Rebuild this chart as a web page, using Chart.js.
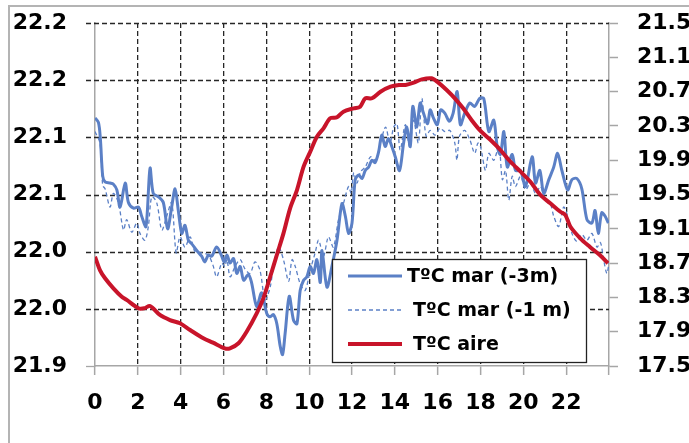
<!DOCTYPE html>
<html>
<head>
<meta charset="utf-8">
<script src="https://cdn.jsdelivr.net/npm/chart.js@4/dist/chart.umd.min.js"></script>
<style>
  html, body { margin: 0; padding: 0; background: #fff; overflow: hidden; }
  #chart { position: absolute; left: 0; top: 0; }
</style>
</head>
<body>
<canvas id="chart" width="700" height="443"></canvas>
<script>
// hours of the day on the x axis
const hourTicks = ['0', '2', '4', '6', '8', '10', '12', '14', '16', '18', '20', '22', ''];
const leftTickLabels = ['21.9', '22.0', '22.0', '22.1', '22.1', '22.2', '22.2'];
const rightTickLabels = ['17.5', '17.9', '18.3', '18.7', '19.1', '19.5', '19.9', '20.3', '20.7', '21.1', '21.5'];

const legendLabels = ['TºC mar (-3m)', 'TºC mar (-1 m)', 'TºC aire'];

// sea temperature at -3 m (left axis)
const sea3Hours = [0, 0.16, 0.25, 0.36, 0.47, 0.7, 0.86, 1.02, 1.17, 1.41, 1.56, 1.8, 2.03, 2.18, 2.38, 2.57, 2.72, 2.96,
  3.19, 3.39, 3.58, 3.74, 3.89, 4.05, 4.2, 4.36, 4.51, 4.75, 4.98, 5.13, 5.29, 5.45, 5.68, 5.92, 6.03, 6.16, 6.31, 6.47,
  6.62, 6.78, 6.94, 7.16, 7.31, 7.55, 7.78, 8.02, 8.18, 8.33, 8.49, 8.65, 8.76, 8.88, 9.07, 9.27, 9.43, 9.58, 9.74, 9.89,
  10.05, 10.2, 10.36, 10.52, 10.6, 10.83, 11.06, 11.3, 11.53, 11.69, 11.84, 12.0, 12.15, 12.31, 12.47, 12.62, 12.78, 12.93,
  13.08, 13.24, 13.39, 13.55, 13.7, 13.86, 14.02, 14.22, 14.41, 14.56, 14.72, 14.84, 15.03, 15.18, 15.34, 15.53, 15.65,
  15.8, 15.98, 16.14, 16.34, 16.54, 16.72, 16.91, 17.06, 17.26, 17.5, 17.73, 17.96, 18.15, 18.39, 18.62, 18.78, 18.93,
  19.09, 19.25, 19.48, 19.64, 19.87, 20.1, 20.41, 20.57, 20.77, 20.95, 21.19, 21.42, 21.6, 21.8, 22.07, 22.27, 22.5,
  22.73, 22.97, 23.2, 23.35, 23.5, 23.66, 23.82, 23.97];
const sea3Temp = [22.117, 22.113, 22.099, 22.066, 22.061, 22.060, 22.059, 22.054, 22.039, 22.060, 22.043, 22.038, 22.039,
  22.031, 22.022, 22.073, 22.051, 22.048, 22.043, 22.020, 22.039, 22.055, 22.036, 22.016, 22.023, 22.010, 22.007, 22.001,
  21.996, 21.991, 21.997, 21.996, 22.004, 21.996, 21.991, 21.997, 21.990, 21.994, 21.981, 21.987, 21.975, 21.980, 21.973,
  21.952, 21.964, 21.946, 21.943, 21.945, 21.937, 21.917, 21.910, 21.929, 21.961, 21.940, 21.937, 21.966, 21.975, 21.978,
  21.987, 21.981, 21.993, 21.973, 22.001, 21.969, 21.987, 22.010, 22.042, 22.031, 22.016, 22.025, 22.063, 22.067, 22.064,
  22.071, 22.074, 22.080, 22.078, 22.087, 22.102, 22.092, 22.099, 22.092, 22.083, 22.071, 22.095, 22.109, 22.092, 22.127,
  22.109, 22.130, 22.121, 22.112, 22.124, 22.117, 22.111, 22.124, 22.121, 22.114, 22.121, 22.140, 22.111, 22.121, 22.130,
  22.127, 22.134, 22.134, 22.105, 22.115, 22.092, 22.085, 22.105, 22.074, 22.085, 22.071, 22.071, 22.057, 22.083, 22.060,
  22.071, 22.051, 22.063, 22.074, 22.086, 22.071, 22.054, 22.063, 22.064, 22.055, 22.028, 22.025, 22.036, 22.016, 22.034,
  22.031, 22.025];

// sea temperature at -1 m (left axis)
const sea1Hours = [0, 0.23, 0.36, 0.47, 0.7, 0.86, 1.09, 1.33, 1.48, 1.72, 1.95, 2.1, 2.33, 2.49, 2.65, 2.88, 3.12, 3.35,
  3.58, 3.79, 3.97, 4.2, 4.44, 4.67, 4.98, 5.29, 5.51, 5.68, 5.92, 6.06, 6.16, 6.31, 6.54, 6.78, 7.0, 7.24, 7.47, 7.7,
  7.94, 8.18, 8.33, 8.57, 8.8, 9.04, 9.2, 9.35, 9.58, 9.81, 10.05, 10.28, 10.44, 10.67, 10.9, 11.13, 11.37, 11.6, 11.84,
  11.96, 12.08, 12.23, 12.4, 12.62, 12.87, 13.1, 13.33, 13.57, 13.77, 13.95, 14.1, 14.25, 14.49, 14.69, 14.87, 15.1,
  15.26, 15.46, 15.65, 15.88, 16.1, 16.34, 16.57, 16.8, 16.9, 17.02, 17.26, 17.5, 17.73, 17.88, 18.0, 18.23, 18.39, 18.62,
  18.86, 19.02, 19.17, 19.32, 19.48, 19.63, 19.87, 20.1, 20.33, 20.57, 20.8, 21.03, 21.26, 21.42, 21.65, 21.88, 22.07,
  22.27, 22.5, 22.73, 22.97, 23.2, 23.44, 23.6, 23.75, 23.9, 24.0];
const sea1Temp = [22.105, 22.095, 22.058, 22.055, 22.039, 22.051, 22.043, 22.019, 22.028, 22.017, 22.025, 22.016, 22.010,
  22.022, 22.048, 22.043, 22.019, 22.031, 22.043, 21.999, 22.013, 22.004, 22.013, 22.000, 21.999, 21.997, 21.988, 21.978,
  21.990, 21.987, 21.993, 21.978, 21.987, 21.993, 21.985, 21.981, 21.991, 21.984, 21.958, 21.969, 21.987, 22.004, 21.993,
  21.974, 21.993, 21.987, 21.972, 21.966, 21.984, 21.999, 22.010, 21.996, 22.013, 22.004, 22.028, 22.042, 22.057, 22.051,
  22.069, 22.060, 22.070, 22.074, 22.083, 22.080, 22.095, 22.109, 22.095, 22.109, 22.112, 22.089, 22.111, 22.092, 22.115,
  22.095, 22.134, 22.101, 22.106, 22.102, 22.108, 22.105, 22.106, 22.095, 22.080, 22.101, 22.106, 22.098, 22.086, 22.095,
  22.092, 22.071, 22.086, 22.080, 22.092, 22.063, 22.071, 22.045, 22.066, 22.057, 22.066, 22.054, 22.060, 22.051, 22.057,
  22.045, 22.042, 22.031, 22.022, 22.039, 22.031, 22.016, 22.009, 22.015, 22.010, 22.016, 22.004, 22.008, 21.993, 21.981,
  21.990];

// air temperature (right axis)
const airHours = [0, 0.23, 0.47, 0.86, 1.25, 1.48, 2.03, 2.3, 2.57, 3.03, 3.5, 3.97, 4.44, 5.06, 5.51, 6.06, 6.3, 6.7,
  7.08, 7.55, 7.86, 8.18, 8.49, 8.8, 9.11, 9.43, 9.74, 10.05, 10.36, 10.67, 10.98, 11.3, 11.6, 12.08, 12.38, 12.62, 12.93,
  13.33, 13.8, 14.19, 14.5, 14.88, 15.26, 15.72, 16.03, 16.42, 16.8, 17.19, 17.58, 18.0, 18.47, 18.93, 19.4, 19.87, 20.33,
  20.8, 21.26, 21.73, 21.96, 22.2, 22.66, 23.1, 23.57, 23.95];
const airTemp = [18.775, 18.619, 18.523, 18.406, 18.308, 18.270, 18.173, 18.173, 18.200, 18.095, 18.036, 17.998, 17.920,
  17.823, 17.772, 17.706, 17.706, 17.765, 17.900, 18.114, 18.289, 18.541, 18.794, 19.047, 19.339, 19.552, 19.824, 19.999,
  20.174, 20.272, 20.389, 20.400, 20.466, 20.505, 20.524, 20.622, 20.622, 20.699, 20.757, 20.777, 20.777, 20.804, 20.843,
  20.855, 20.804, 20.719, 20.622, 20.505, 20.369, 20.241, 20.136, 20.019, 19.882, 19.766, 19.649, 19.494, 19.397, 19.299,
  19.261, 19.124, 18.989, 18.891, 18.794, 18.698];

function pairs(xs, ys) {
  return xs.map(function(x, i) { return { x: x, y: ys[i] }; });
}

const blue = '#5b80c6';
const red = '#c8142a';
const gridDark = '#262626';
const axisGrey = '#a6a6a6';
const clear = 'rgba(0,0,0,0)';
const tickFont = { family: 'DejaVu Sans', size: 22, weight: 'bold' };

// grey frame round the whole figure (only its left and top edges are in view)
const outerFrame = {
  id: 'outerFrame',
  beforeDraw(chart) {
    const ctx = chart.ctx;
    ctx.save();
    ctx.strokeStyle = '#b4b4b4';
    ctx.lineWidth = 2;
    ctx.beginPath();
    ctx.moveTo(9, 460);
    ctx.lineTo(9, 6);
    ctx.lineTo(720, 6);
    ctx.stroke();
    ctx.restore();
  }
};

// dashed horizontal grid at the left-axis ticks, under the data lines
const leftGrid = {
  id: 'leftGrid',
  beforeDatasetsDraw(chart) {
    const s = chart.scales.yL;
    const a = chart.chartArea;
    const ctx = chart.ctx;
    ctx.save();
    ctx.lineWidth = 1.3;
    s.ticks.forEach(function(t, i) {
      const y = Math.round(s.getPixelForTick(i)) + 0.5;
      ctx.beginPath();
      if (i === 0) {
        ctx.setLineDash([]);
        ctx.strokeStyle = axisGrey;
        ctx.moveTo(a.left - 9, y);
        ctx.lineTo(a.left, y);
      } else {
        ctx.setLineDash([5, 3]);
        ctx.strokeStyle = gridDark;
        ctx.moveTo(a.left - 9, y);
        ctx.lineTo(a.right, y);
      }
      ctx.stroke();
    });
    ctx.restore();
  }
};

// legend drawn inside the plot, framed box
const insideLegend = {
  id: 'insideLegend',
  afterDraw(chart) {
    const ctx = chart.ctx;
    const ds = chart.data.datasets;
    ctx.save();
    ctx.fillStyle = '#fff';
    ctx.fillRect(332, 259, 254, 103);
    ctx.strokeStyle = '#222';
    ctx.lineWidth = 1.3;
    ctx.strokeRect(332.5, 259.5, 254, 103);
    const rows = [
      { y: 276, tx: 407 },
      { y: 310, tx: 413 },
      { y: 344, tx: 413 }
    ];
    rows.forEach(function(r, i) {
      const d = ds[i];
      ctx.beginPath();
      ctx.setLineDash(d.borderDash || []);
      ctx.strokeStyle = d.borderColor;
      ctx.lineWidth = d.borderWidth;
      ctx.moveTo(348, r.y);
      ctx.lineTo(402, r.y);
      ctx.stroke();
      ctx.setLineDash([]);
      ctx.fillStyle = '#000';
      ctx.font = 'bold 19px "DejaVu Sans"';
      ctx.textBaseline = 'middle';
      ctx.textAlign = 'left';
      ctx.fillText(legendLabels[i], r.tx, r.y + 1);
    });
    ctx.restore();
  }
};

function noPad(s) {
  s.paddingTop = 0;
  s.paddingBottom = 0;
  s.paddingLeft = 0;
  s.paddingRight = 0;
}

const chart = new Chart(document.getElementById('chart'), {
  type: 'line',
  data: {
    datasets: [
      {
        label: legendLabels[0],
        data: pairs(sea3Hours, sea3Temp),
        borderColor: blue,
        borderWidth: 3,
        yAxisID: 'yL',
        order: 1
      },
      {
        label: legendLabels[1],
        data: pairs(sea1Hours, sea1Temp),
        borderColor: blue,
        borderWidth: 1.3,
        borderDash: [4, 3],
        yAxisID: 'yL',
        order: 2
      },
      {
        label: legendLabels[2],
        data: pairs(airHours, airTemp),
        borderColor: red,
        borderWidth: 4,
        yAxisID: 'yR',
        order: 0
      }
    ]
  },
  options: {
    responsive: false,
    animation: false,
    devicePixelRatio: 1,
    pointRadius: 0,
    tension: 0.3,
    layout: { padding: { left: 12, right: 0, top: 23, bottom: 26 } },
    plugins: { legend: { display: false }, tooltip: { enabled: false } },
    scales: {
      x: {
        type: 'linear',
        min: 0,
        max: 24,
        afterFit: function(s) { s.height = 51; noPad(s); },
        ticks: {
          stepSize: 2,
          color: '#000',
          font: tickFont,
          padding: 15,
          maxRotation: 0,
          autoSkip: false,
          callback: function(v, i) { return hourTicks[i]; }
        },
        grid: {
          color: [clear, gridDark, gridDark, gridDark, gridDark, gridDark, gridDark, gridDark, gridDark, gridDark, gridDark, gridDark, clear],
          lineWidth: 1.3,
          tickColor: axisGrey,
          tickLength: 9,
          tickWidth: 1.5
        },
        border: { display: true, color: axisGrey, width: 1.5, dash: [5, 3] }
      },
      yL: {
        position: 'left',
        min: 21.9,
        max: 22.2,
        afterFit: function(s) { s.width = 83; noPad(s); },
        ticks: {
          stepSize: 0.05,
          color: '#000',
          font: tickFont,
          padding: 19,
          callback: function(v, i) { return leftTickLabels[i]; }
        },
        grid: {
          drawOnChartArea: false,
          tickColor: clear,
          tickLength: 9
        },
        border: { display: true, color: axisGrey, width: 1.5 }
      },
      yR: {
        position: 'right',
        min: 17.5,
        max: 21.5,
        afterFit: function(s) { s.width = 91; noPad(s); },
        ticks: {
          stepSize: 0.4,
          color: '#000',
          font: tickFont,
          padding: 19,
          callback: function(v, i) { return rightTickLabels[i]; }
        },
        grid: {
          drawOnChartArea: false,
          tickColor: axisGrey,
          tickLength: 9,
          tickWidth: 1.5
        },
        border: { display: true, color: axisGrey, width: 1.5 }
      }
    }
  },
  plugins: [outerFrame, leftGrid, insideLegend]
});
</script>
</body>
</html>
